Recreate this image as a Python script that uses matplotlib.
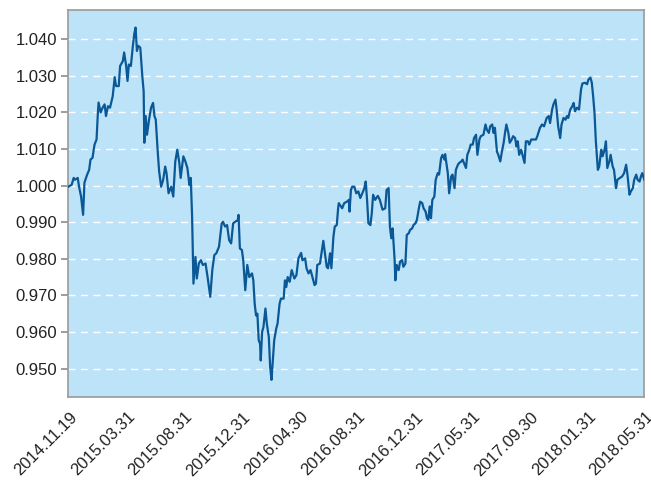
import matplotlib
matplotlib.use("Agg")
import matplotlib.pyplot as plt
from matplotlib.transforms import ScaledTranslation
import numpy as np

# trading-day index (0 = 2014.11.19, 856 = 2018.05.31)
trading_day = [0,5,8,10,14,16,19,22,24,28,31,33,36,39,42,44,45,48,51,54,56,59,62,66,69,71,75,77,81,83,
               86,88,90,93,96,98,100,102,104,107,110,112,113,115,117,120,123,126,128,130,133,
               135,138,141,144,146,149,153,156,159,162,165,167,171,174,177,180,182,184,186,189,
               191,194,197,200,204,207,211,214,217,220,222,224,228,230,233,236,239,242,245,248,
               252,253,255,258,260,263,266,
               269,273,275,277,279,281,283,285,286,288,290,293,295,298,300,302,304,306,309,311,
               314,316,320,322,324,326,329,332,336,339,342,346,348,352,354,357,360,362,366,368,
               370,374,377,379,382,384,386,389,391,394,396,399,401,
               402,407,410,414,417,418,420,422,425,428,431,434,437,440,442,444,446,449,451,453,
               456,460,463,467,471,473,476,478,480,482,485,486,488,491,493,496,498,501,503,506,
               508,511,513,516,518,521,523,526,528,531,533,535,
               537,539,541,544,546,549,551,554,556,559,560,564,566,569,571,574,576,579,581,584,
               586,588,591,593,596,598,601,603,606,608,611,613,617,620,622,625,627,630,632,634,
               637,639,642,644,647,649,651,654,656,659,661,664,666,668,670,673,675,678,680,683,
               685,688,691,695,697,701,704,707,711,714,716,719,721,724,726,728,731,733,736,739,
               741,743,746,749,751,753,756,759,762,764,768,771,773,776,778,780,782,784,787,789,
               792,794,797,799,801,804,806,809,811,814,816,820,823,826,829,831,834,836,839,841,
               844,846,849,851,853,856]

nav = [0.9997,1.0002,1.0021,1.0016,1.0021,0.9997,0.9970,0.9920,1.0008,1.0030,
       1.0043,1.0071,1.0076,1.0112,1.0126,1.0200,1.0227,1.0200,1.0213,1.0222,
       1.0190,1.0217,1.0213,1.0244,1.0296,1.0272,1.0272,1.0327,1.0340,1.0364,
       1.0327,1.0286,1.0331,1.0327,1.0382,1.0414,1.0432,1.0368,1.0382,1.0377,
       1.0299,1.0258,1.0117,1.0190,1.0139,1.0180,1.0213,1.0226,1.0190,1.0180,
       1.0090,
       1.0039,0.9997,1.0016,1.0052,1.0034,0.9979,0.9997,0.9970,1.0066,1.0098,
       1.0062,1.0021,1.0080,1.0066,1.0048,1.0002,1.0021,0.9915,0.9732,0.9805,
       0.9746,0.9787,0.9796,0.9783,0.9787,0.9750,0.9696,0.9769,0.9810,0.9815,
       0.9824,0.9833,0.9897,0.9901,0.9888,0.9892,0.9851,0.9842,0.9897,0.9901,
       0.9906,0.9920,0.9828,0.9824,0.9796,0.9714,0.9783,
       0.9750,0.9760,0.9741,0.9677,0.9645,0.9650,0.9577,0.9568,0.9522,0.9600,
       0.9613,0.9664,0.9623,0.9586,0.9504,0.9469,0.9522,0.9577,0.9609,0.9623,
       0.9677,0.9691,0.9691,0.9741,0.9723,0.9750,0.9737,0.9769,0.9746,0.9755,
       0.9801,0.9816,0.9796,0.9801,0.9774,0.9760,0.9769,0.9755,0.9728,0.9732,
       0.9783,0.9787,0.9824,0.9849,0.9805,0.9778,0.9774,0.9815,0.9774,0.9860,
       0.9888,0.9892,0.9938,
       0.9952,0.9938,0.9952,0.9956,0.9961,0.9929,0.9988,0.9997,0.9997,0.9979,
       0.9984,0.9966,0.9979,0.9993,1.0011,0.9961,0.9897,0.9892,0.9924,0.9975,
       0.9961,0.9972,0.9961,0.9934,0.9938,0.9988,0.9993,0.9888,0.9856,0.9883,
       0.9796,0.9741,0.9783,0.9769,0.9792,0.9796,0.9778,0.9787,0.9865,0.9870,
       0.9879,0.9883,0.9892,0.9897,0.9906,0.9938,0.9956,0.9952,0.9938,0.9929,
       0.9911,0.9906,
       0.9943,0.9911,0.9961,0.9970,1.0016,1.0034,1.0030,1.0075,1.0084,1.0071,
       1.0086,1.0034,0.9979,1.0025,1.0030,0.9993,1.0043,1.0057,1.0062,1.0066,
       1.0071,1.0062,1.0048,1.0084,1.0098,1.0112,1.0112,1.0130,1.0139,1.0084,
       1.0126,1.0135,1.0139,1.0167,1.0153,1.0144,1.0162,1.0167,1.0144,1.0158,
       1.0093,1.0084,1.0066,1.0089,1.0117,1.0144,1.0167,1.0144,1.0117,1.0126,
       1.0135,1.0130,1.0107,1.0121,1.0084,1.0098,1.0084,1.0062,1.0121,1.0121,
       1.0112,1.0126,1.0126,1.0126,1.0135,1.0158,1.0167,1.0162,1.0185,1.0190,
       1.0171,1.0208,1.0222,1.0235,1.0203,1.0162,1.0130,1.0167,1.0185,1.0180,
       1.0190,1.0185,1.0208,1.0217,1.0226,1.0203,1.0213,1.0208,1.0263,1.0279,
       1.0281,1.0277,1.0290,1.0295,1.0281,1.0244,1.0199,1.0121,1.0043,1.0052,
       1.0098,1.0080,1.0098,1.0121,1.0048,1.0066,1.0084,1.0052,1.0043,0.9993,
       1.0016,1.0021,1.0025,1.0034,1.0057,1.0030,0.9975,0.9984,0.9993,1.0016,
       1.0030,1.0016,1.0011,1.0025,1.0034,1.0016]

x_tick_labels = ["2014.11.19", "2015.03.31", "2015.08.31", "2015.12.31", "2016.04.30",
                 "2016.08.31", "2016.12.31", "2017.05.31", "2017.09.30", "2018.01.31",
                 "2018.05.31"]
y_ticks = [0.950, 0.960, 0.970, 0.980, 0.990, 1.000, 1.010, 1.020, 1.030, 1.040]

plt.rcParams['font.family'] = ['Liberation Sans', 'DejaVu Sans']

fig = plt.figure(figsize=(6.51, 4.82), dpi=100)
ax = fig.add_axes([0.1049, 0.177, 0.8848, 0.8023])
ax.set_facecolor('#BDE3F9')

ax.plot(trading_day, nav, color='#0A5896', linewidth=1.6, zorder=3)

last_day = trading_day[-1]
ax.set_xlim(0, last_day)
ax.set_ylim(0.9423, 1.0480)

ax.set_yticks(y_ticks)
ax.set_yticklabels([f"{v:.3f}" for v in y_ticks])
ax.yaxis.grid(True, color='white', linestyle=(0, (5, 4)), linewidth=1.0)
ax.xaxis.grid(False)
ax.set_axisbelow(True)

xt = np.linspace(0, last_day, len(x_tick_labels))
ax.set_xticks(xt)
ax.set_xticklabels(x_tick_labels, rotation=45, ha='right')

ax.tick_params(axis='y', length=5, width=1.2, color='#8C8C8C', labelsize=12,
               labelcolor='#222222', pad=3)
ax.tick_params(axis='x', length=0, labelsize=12, labelcolor='#222222', pad=9)

offset = ScaledTranslation(12 / 100, 0, fig.dpi_scale_trans)
for lab in ax.get_xticklabels():
    lab.set_transform(lab.get_transform() + offset)
    lab.set_clip_on(False)

for side in ['left', 'right', 'top', 'bottom']:
    ax.spines[side].set_color('#9A9A9A')
    ax.spines[side].set_linewidth(1.2)

fig.savefig('out.png', dpi=100)
